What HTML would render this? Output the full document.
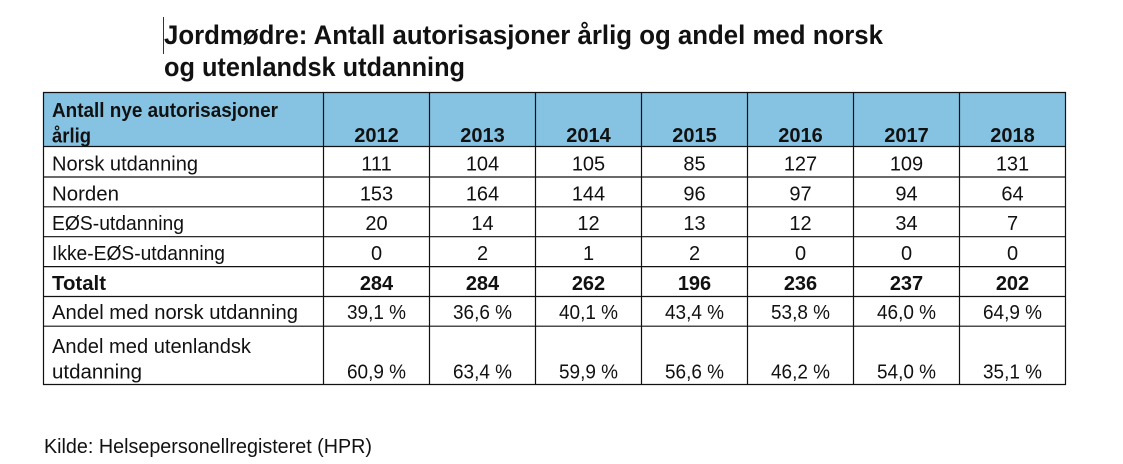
<!DOCTYPE html>
<html>
<head>
<meta charset="utf-8">
<style>
html,body{margin:0;padding:0;background:#fff;}
svg{display:block;}
text{font-family:"Liberation Sans",Arial,sans-serif;fill:#111;}
.b{font-weight:bold;}
.n{font-size:20px;}
.c{text-anchor:middle;}
</style>
</head>
<body>
<svg width="1123" height="464" viewBox="0 0 1123 464" xmlns="http://www.w3.org/2000/svg">
<rect x="0" y="0" width="1123" height="464" fill="#fff"/>

<!-- cursor -->
<line x1="163.5" y1="17" x2="163.5" y2="54" stroke="#333" stroke-width="1"/>

<!-- title -->
<text class="b" x="164" y="44" font-size="27" textLength="719" lengthAdjust="spacingAndGlyphs">Jordmødre: Antall autorisasjoner årlig og andel med norsk</text>
<text class="b" x="164" y="76" font-size="27" textLength="301" lengthAdjust="spacingAndGlyphs">og utenlandsk utdanning</text>

<!-- header fill -->
<rect x="43.5" y="92.5" width="1022" height="54" fill="#86C3E2"/>

<!-- grid -->
<g stroke="#111" stroke-width="1.2" fill="none">
<line x1="43" y1="92.5" x2="1066" y2="92.5"/>
<line x1="43" y1="146.5" x2="1066" y2="146.5"/>
<line x1="43" y1="177" x2="1066" y2="177"/>
<line x1="43" y1="206.8" x2="1066" y2="206.8"/>
<line x1="43" y1="236.7" x2="1066" y2="236.7"/>
<line x1="43" y1="266.6" x2="1066" y2="266.6"/>
<line x1="43" y1="296.5" x2="1066" y2="296.5"/>
<line x1="43" y1="326.2" x2="1066" y2="326.2"/>
<line x1="43" y1="384.5" x2="1066" y2="384.5"/>
<line x1="43.5" y1="92" x2="43.5" y2="385"/>
<line x1="323.5" y1="92" x2="323.5" y2="385"/>
<line x1="429.5" y1="92" x2="429.5" y2="385"/>
<line x1="535.5" y1="92" x2="535.5" y2="385"/>
<line x1="641.5" y1="92" x2="641.5" y2="385"/>
<line x1="747.5" y1="92" x2="747.5" y2="385"/>
<line x1="853.5" y1="92" x2="853.5" y2="385"/>
<line x1="959.5" y1="92" x2="959.5" y2="385"/>
<line x1="1065.5" y1="92" x2="1065.5" y2="385"/>
</g>

<!-- header text -->
<text class="b n" x="52" y="117" textLength="226" lengthAdjust="spacingAndGlyphs">Antall nye autorisasjoner</text>
<text class="b n" x="52" y="142.5" textLength="39" lengthAdjust="spacingAndGlyphs">årlig</text>
<g class="b n c">
<text class="b n c" x="376.5" y="142">2012</text>
<text class="b n c" x="482.5" y="142">2013</text>
<text class="b n c" x="588.5" y="142">2014</text>
<text class="b n c" x="694.5" y="142">2015</text>
<text class="b n c" x="800.5" y="142">2016</text>
<text class="b n c" x="906.5" y="142">2017</text>
<text class="b n c" x="1012.5" y="142">2018</text>
</g>

<!-- row labels -->
<text class="n" x="52" y="170.5" textLength="146" lengthAdjust="spacingAndGlyphs">Norsk utdanning</text>
<text class="n" x="52" y="200.3" textLength="67" lengthAdjust="spacingAndGlyphs">Norden</text>
<text class="n" x="52" y="230.2" textLength="132" lengthAdjust="spacingAndGlyphs">EØS-utdanning</text>
<text class="n" x="52" y="260" textLength="173" lengthAdjust="spacingAndGlyphs">Ikke-EØS-utdanning</text>
<text class="b n" x="52" y="290" textLength="54" lengthAdjust="spacingAndGlyphs">Totalt</text>
<text class="n" x="52" y="319" textLength="246" lengthAdjust="spacingAndGlyphs">Andel med norsk utdanning</text>
<text class="n" x="52" y="353" textLength="199" lengthAdjust="spacingAndGlyphs">Andel med utenlandsk</text>
<text class="n" x="52" y="378.5" textLength="90" lengthAdjust="spacingAndGlyphs">utdanning</text>

<!-- Norsk utdanning -->
<text class="n c" x="376.5" y="170.5">111</text>
<text class="n c" x="482.5" y="170.5">104</text>
<text class="n c" x="588.5" y="170.5">105</text>
<text class="n c" x="694.5" y="170.5">85</text>
<text class="n c" x="800.5" y="170.5">127</text>
<text class="n c" x="906.5" y="170.5">109</text>
<text class="n c" x="1012.5" y="170.5">131</text>

<!-- Norden -->
<text class="n c" x="376.5" y="200.3">153</text>
<text class="n c" x="482.5" y="200.3">164</text>
<text class="n c" x="588.5" y="200.3">144</text>
<text class="n c" x="694.5" y="200.3">96</text>
<text class="n c" x="800.5" y="200.3">97</text>
<text class="n c" x="906.5" y="200.3">94</text>
<text class="n c" x="1012.5" y="200.3">64</text>

<!-- EØS -->
<text class="n c" x="376.5" y="230.2">20</text>
<text class="n c" x="482.5" y="230.2">14</text>
<text class="n c" x="588.5" y="230.2">12</text>
<text class="n c" x="694.5" y="230.2">13</text>
<text class="n c" x="800.5" y="230.2">12</text>
<text class="n c" x="906.5" y="230.2">34</text>
<text class="n c" x="1012.5" y="230.2">7</text>

<!-- Ikke-EØS -->
<text class="n c" x="376.5" y="260">0</text>
<text class="n c" x="482.5" y="260">2</text>
<text class="n c" x="588.5" y="260">1</text>
<text class="n c" x="694.5" y="260">2</text>
<text class="n c" x="800.5" y="260">0</text>
<text class="n c" x="906.5" y="260">0</text>
<text class="n c" x="1012.5" y="260">0</text>

<!-- Totalt -->
<text class="b n c" x="376.5" y="290">284</text>
<text class="b n c" x="482.5" y="290">284</text>
<text class="b n c" x="588.5" y="290">262</text>
<text class="b n c" x="694.5" y="290">196</text>
<text class="b n c" x="800.5" y="290">236</text>
<text class="b n c" x="906.5" y="290">237</text>
<text class="b n c" x="1012.5" y="290">202</text>

<!-- Andel norsk -->
<text class="n c" x="376.5" y="319" textLength="59" lengthAdjust="spacingAndGlyphs">39,1 %</text>
<text class="n c" x="482.5" y="319" textLength="59" lengthAdjust="spacingAndGlyphs">36,6 %</text>
<text class="n c" x="588.5" y="319" textLength="59" lengthAdjust="spacingAndGlyphs">40,1 %</text>
<text class="n c" x="694.5" y="319" textLength="59" lengthAdjust="spacingAndGlyphs">43,4 %</text>
<text class="n c" x="800.5" y="319" textLength="59" lengthAdjust="spacingAndGlyphs">53,8 %</text>
<text class="n c" x="906.5" y="319" textLength="59" lengthAdjust="spacingAndGlyphs">46,0 %</text>
<text class="n c" x="1012.5" y="319" textLength="59" lengthAdjust="spacingAndGlyphs">64,9 %</text>

<!-- Andel utenlandsk -->
<text class="n c" x="376.5" y="378.5" textLength="59" lengthAdjust="spacingAndGlyphs">60,9 %</text>
<text class="n c" x="482.5" y="378.5" textLength="59" lengthAdjust="spacingAndGlyphs">63,4 %</text>
<text class="n c" x="588.5" y="378.5" textLength="59" lengthAdjust="spacingAndGlyphs">59,9 %</text>
<text class="n c" x="694.5" y="378.5" textLength="59" lengthAdjust="spacingAndGlyphs">56,6 %</text>
<text class="n c" x="800.5" y="378.5" textLength="59" lengthAdjust="spacingAndGlyphs">46,2 %</text>
<text class="n c" x="906.5" y="378.5" textLength="59" lengthAdjust="spacingAndGlyphs">54,0 %</text>
<text class="n c" x="1012.5" y="378.5" textLength="59" lengthAdjust="spacingAndGlyphs">35,1 %</text>

<!-- footer -->
<text class="n" x="44" y="453" textLength="328" lengthAdjust="spacingAndGlyphs">Kilde: Helsepersonellregisteret (HPR)</text>
</svg>
</body>
</html>
